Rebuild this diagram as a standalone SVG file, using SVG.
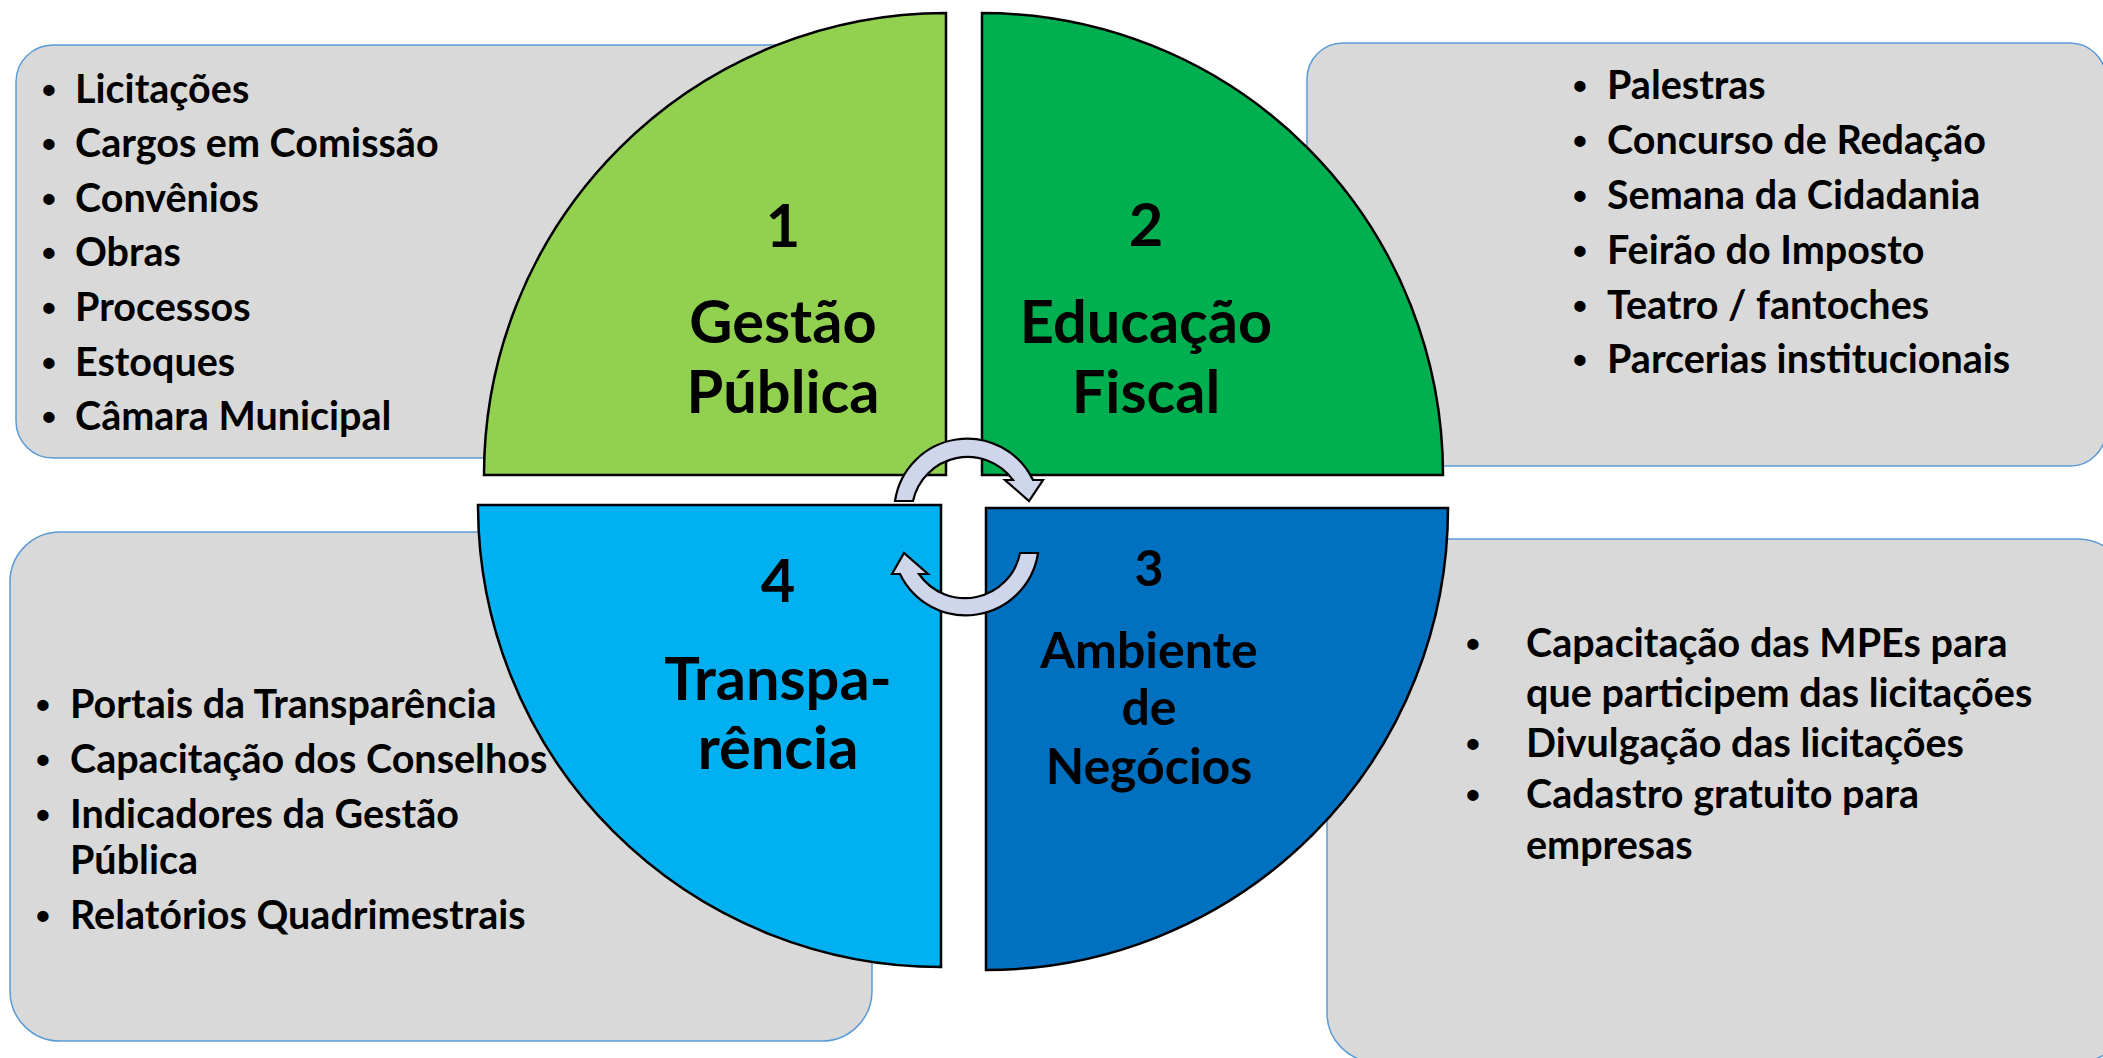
<svg xmlns="http://www.w3.org/2000/svg" width="2103" height="1058" viewBox="0 0 2103 1058">
  <style>
    .box { fill: #D9D9D9; stroke: #5B9BD5; stroke-width: 1.5; }
    .quad { stroke: #000000; stroke-width: 2.5; stroke-linejoin: miter; }
    .arrow { fill: #CFD5EA; stroke: #000000; stroke-width: 2.2; stroke-linejoin: miter; }
    text { font-family: Lato, "Open Sans", "Liberation Sans", sans-serif; font-weight: bold; fill: #000000; }
    .item { font-size: 39.5px; }
    .title { font-size: 59.5px; text-anchor: middle; }
    .title3 { font-size: 50px; text-anchor: middle; }
    .bul { text-anchor: middle; font-family: "Liberation Sans", Arial, sans-serif; }
  </style>
  <rect width="2103" height="1058" fill="#FFFFFF"/>

  <g id="box-gestao">
    <rect class="box" x="16" y="45" width="880" height="413" rx="37" ry="37"/>
    <text class="item"><tspan class="bul" x="49" y="103">•</tspan><tspan x="75" y="103">Licitações</tspan></text>
    <text class="item"><tspan class="bul" x="49" y="157">•</tspan><tspan x="75" y="157">Cargos em Comissão</tspan></text>
    <text class="item"><tspan class="bul" x="49" y="212">•</tspan><tspan x="75" y="212">Convênios</tspan></text>
    <text class="item"><tspan class="bul" x="49" y="266">•</tspan><tspan x="75" y="266">Obras</tspan></text>
    <text class="item"><tspan class="bul" x="49" y="321">•</tspan><tspan x="75" y="321">Processos</tspan></text>
    <text class="item"><tspan class="bul" x="49" y="376">•</tspan><tspan x="75" y="376">Estoques</tspan></text>
    <text class="item"><tspan class="bul" x="49" y="430">•</tspan><tspan x="75" y="430">Câmara Municipal</tspan></text>
  </g>

  <g id="box-educacao">
    <rect class="box" x="1307" y="43" width="799" height="423" rx="36" ry="36"/>
    <text class="item"><tspan class="bul" x="1580" y="99">•</tspan><tspan x="1607" y="99">Palestras</tspan></text>
    <text class="item"><tspan class="bul" x="1580" y="154">•</tspan><tspan x="1607" y="154">Concurso de Redação</tspan></text>
    <text class="item"><tspan class="bul" x="1580" y="209">•</tspan><tspan x="1607" y="209">Semana da Cidadania</tspan></text>
    <text class="item"><tspan class="bul" x="1580" y="264">•</tspan><tspan x="1607" y="264">Feirão do Imposto</tspan></text>
    <text class="item"><tspan class="bul" x="1580" y="319">•</tspan><tspan x="1607" y="319">Teatro / fantoches</tspan></text>
    <text class="item"><tspan class="bul" x="1580" y="373">•</tspan><tspan x="1607" y="373">Parcerias institucionais</tspan></text>
  </g>

  <g id="box-transparencia">
    <rect class="box" x="10" y="532" width="862" height="509" rx="50" ry="50"/>
    <text class="item"><tspan class="bul" x="43" y="718">•</tspan><tspan x="70" y="718">Portais da Transparência</tspan></text>
    <text class="item"><tspan class="bul" x="43" y="773">•</tspan><tspan x="70" y="773">Capacitação dos Conselhos</tspan></text>
    <text class="item"><tspan class="bul" x="43" y="828">•</tspan><tspan x="70" y="828">Indicadores da Gestão</tspan></text>
    <text class="item"><tspan x="70" y="874">Pública</tspan></text>
    <text class="item"><tspan class="bul" x="43" y="929">•</tspan><tspan x="70" y="929">Relatórios Quadrimestrais</tspan></text>
  </g>

  <g id="box-ambiente">
    <rect class="box" x="1327" y="539" width="800" height="523" rx="49" ry="49"/>
    <text class="item"><tspan class="bul" x="1473" y="657">•</tspan><tspan x="1526" y="657">Capacitação das MPEs para</tspan></text>
    <text class="item"><tspan x="1526" y="707">que participem das licitações</tspan></text>
    <text class="item"><tspan class="bul" x="1473" y="757">•</tspan><tspan x="1526" y="757">Divulgação das licitações</tspan></text>
    <text class="item"><tspan class="bul" x="1473" y="808">•</tspan><tspan x="1526" y="808">Cadastro gratuito para</tspan></text>
    <text class="item"><tspan x="1526" y="859">empresas</tspan></text>
  </g>

  <g id="quad-1-gestao-publica">
    <path class="quad" fill="#92D050" d="M 946,475 L 484,475 A 462 462 0 0 1 946,13 Z"/>
    <text class="title" x="783" y="247">1</text>
    <text class="title" x="783" y="343">Gestão</text>
    <text class="title" x="783" y="413">Pública</text>
  </g>

  <g id="quad-2-educacao-fiscal">
    <path class="quad" fill="#00B050" d="M 982,475 L 982,13 A 461 462 0 0 1 1443,475 Z"/>
    <text class="title" x="1146" y="246">2</text>
    <text class="title" x="1146" y="343">Educação</text>
    <text class="title" x="1146" y="413">Fiscal</text>
  </g>

  <g id="quad-3-ambiente-negocios">
    <path class="quad" fill="#0070C0" d="M 986,508 L 1448,508 A 462 462 0 0 1 986,970 Z"/>
    <text class="title3" x="1149" y="586">3</text>
    <text class="title3" x="1149" y="668">Ambiente</text>
    <text class="title3" x="1149" y="725">de</text>
    <text class="title3" x="1149" y="784">Negócios</text>
  </g>

  <g id="quad-4-transparencia">
    <path class="quad" fill="#00B0F0" d="M 941,505 L 478,505 A 463 462 0 0 0 941,967 Z"/>
    <text class="title" x="778" y="602">4</text>
    <text class="title" x="778" y="700">Transpa-</text>
    <text class="title" x="778" y="769">rência</text>
  </g>

  <g id="connectors">
    <path class="arrow" d="M 895,501 A 73 73 0 0 1 1033,480 L 1043,480 L 1029,501 L 1005,480 L 1013,480 A 56 56 0 0 0 913,501 Z"/>
    <path class="arrow" d="M 1038,553 A 73 73 0 0 1 900,574 L 892,574 L 904,553 L 928,574 L 919,574 A 56 56 0 0 0 1020,553 Z"/>
  </g>
</svg>
